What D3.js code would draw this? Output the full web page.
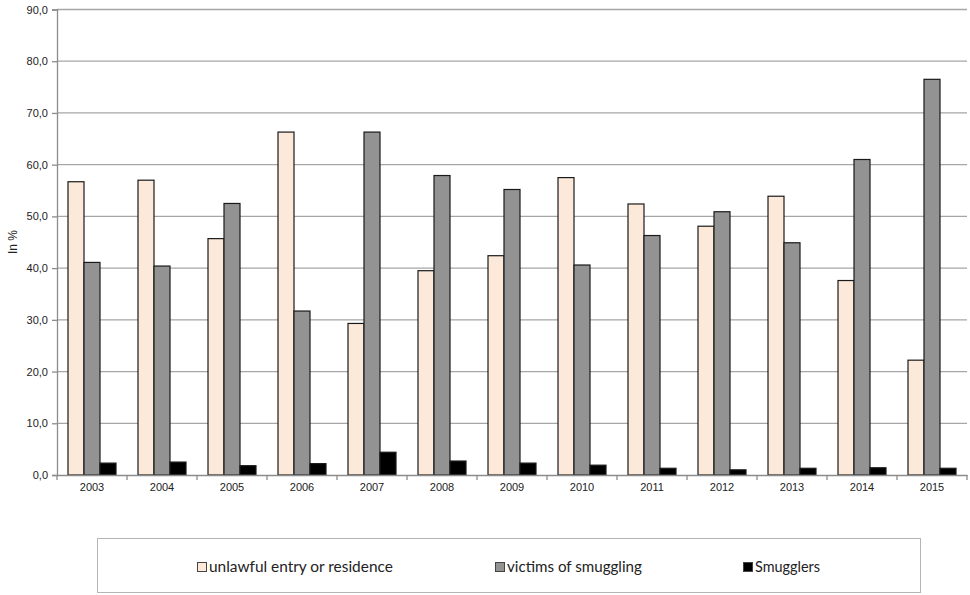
<!DOCTYPE html>
<html><head><meta charset="utf-8">
<script src="https://cdn.jsdelivr.net/npm/d3@7"></script>
<style>body{margin:0;background:#fff}svg{display:block}</style>
</head><body>
<script>
const years = ["2003","2004","2005","2006","2007","2008","2009","2010","2011","2012","2013","2014","2015"];
const unlawful = [56.7,57.0,45.7,66.3,29.3,39.5,42.4,57.5,52.4,48.1,53.9,37.6,22.2];
const victims = [41.1,40.4,52.5,31.7,66.3,57.9,55.2,40.6,46.3,50.9,44.9,61.0,76.5];
const smugglers = [2.3,2.5,1.8,2.2,4.4,2.7,2.3,1.9,1.3,1.0,1.3,1.4,1.3];
const seriesNames = ["unlawful entry or residence","victims of smuggling","Smugglers"];
const seriesColors = ["#fde9d9","#939393","#000000"];
const yTicks = [0,10,20,30,40,50,60,70,80,90];

const W=970,H=595;
const m={l:57,r:3,t:9.5,b:120};
const svg=d3.select("body").append("svg").attr("width",W).attr("height",H);
const x=d3.scaleBand().domain(years).range([m.l,W-m.r]);
const y=d3.scaleLinear().domain([0,90]).range([475,m.t]);
const inner=d3.scaleBand().domain([0,1,2]).range([11,x.bandwidth()-11]);
const data=[unlawful,victims,smugglers];

// gridlines
svg.append("g").selectAll("line").data(yTicks.filter(d=>d>0)).join("line")
 .attr("x1",m.l).attr("x2",W-m.r).attr("y1",d=>y(d)).attr("y2",d=>y(d))
 .attr("stroke","#a6a6a6").attr("stroke-width",1.3);

// y axis
const ya=svg.append("g").attr("transform",`translate(${m.l},0)`)
 .call(d3.axisLeft(y).tickValues(yTicks).tickSize(5).tickPadding(4).tickFormat(d=>d3.format(".1f")(d).replace(".",",")));
ya.select(".domain").attr("stroke","#8c8c8c").attr("stroke-width",1.3);
ya.selectAll(".tick line").attr("stroke","#8c8c8c").attr("stroke-width",1.3);
ya.selectAll("text").attr("font-family","Liberation Sans, Arial, sans-serif").attr("font-size",11).attr("fill","#222");

// bars
data.forEach((vals,s)=>{
 svg.append("g").selectAll("rect").data(vals).join("rect")
  .attr("x",(d,i)=>x(years[i])+inner(s)).attr("width",inner.bandwidth())
  .attr("y",d=>y(d)).attr("height",d=>y(0)-y(d))
  .attr("fill",seriesColors[s]).attr("stroke","#1a1a1a").attr("stroke-width",1.2);
});

// x axis
const xa=svg.append("g").attr("transform",`translate(0,${y(0)})`)
 .call(d3.axisBottom(x).tickSize(0).tickPadding(8));
xa.select(".domain").attr("stroke","#8c8c8c").attr("stroke-width",1.3);
xa.selectAll("text").attr("font-family","Liberation Sans, Arial, sans-serif").attr("font-size",11).attr("fill","#222");
svg.append("g").selectAll("line").data(years.concat(["end"])).join("line")
 .attr("x1",(d,i)=>m.l+i*x.step()).attr("x2",(d,i)=>m.l+i*x.step())
 .attr("y1",y(0)).attr("y2",y(0)+5).attr("stroke","#8c8c8c").attr("stroke-width",1.3);

// y label
svg.append("text").attr("transform","translate(17,242) rotate(-90)").attr("text-anchor","middle")
 .attr("font-family","Liberation Sans, Arial, sans-serif").attr("font-size",12).attr("fill","#222").text("In %");

// legend
svg.append("rect").attr("x",97.5).attr("y",538.5).attr("width",823).attr("height",54)
 .attr("fill","#fff").attr("stroke","#b5b5b5").attr("stroke-width",1);
const lx=[197,495,743];
const lw=[184,135,65];
const lg=svg.append("g").selectAll("g").data(seriesNames).join("g").attr("transform",(d,i)=>`translate(${lx[i]},567)`);
lg.append("rect").attr("x",0.5).attr("y",-4.5).attr("width",9).attr("height",9)
 .attr("fill",(d,i)=>seriesColors[i]).attr("stroke","#444").attr("stroke-width",1);
lg.append("text").attr("x",12).attr("y",5).attr("font-family","Lato, Open Sans, sans-serif").attr("font-size",15).attr("fill","#222").text(d=>d)
 .each(function(d,i){const w=this.getComputedTextLength(); d3.select(this).attr("font-size",(15*lw[i]/w).toFixed(2));});
</script>
</body></html>
